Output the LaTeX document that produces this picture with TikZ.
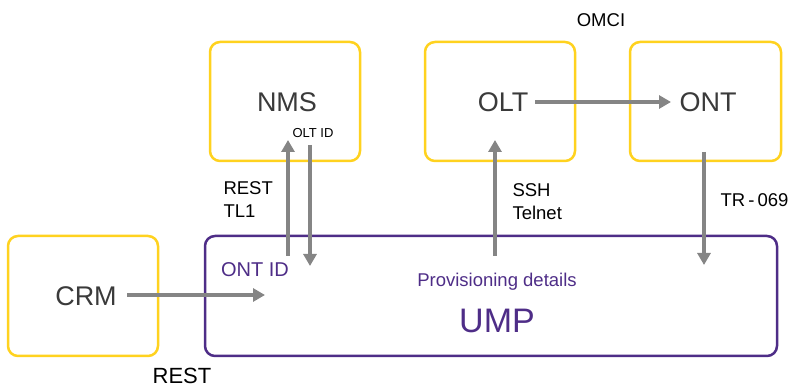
\documentclass[tikz,border=0pt]{standalone}
\usepackage{fontspec}
\setmainfont{Liberation Sans}
\usetikzlibrary{arrows.meta}
\definecolor{boxyellow}{HTML}{FFD21F}
\definecolor{ump}{HTML}{4E2D87}
\definecolor{arrowgray}{HTML}{858585}
\definecolor{txtgray}{HTML}{3A3A3A}
\tikzset{
  ybox/.style={draw=boxyellow, line width=2.5pt, rounded corners=10pt},
  pbox/.style={draw=ump, line width=2.5pt, rounded corners=10pt},
  boxlabel/.style={text=txtgray, font=\fontsize{27}{30}\selectfont},
  lbl/.style={text=black, font=\fontsize{18.5}{23}\selectfont, align=left},
  flow/.style={draw=arrowgray, line width=4pt, -{Triangle[length=12pt,width=13pt]}},
}
\begin{document}
\begin{tikzpicture}[x=1pt,y=-1pt]
\useasboundingbox (0,0) rectangle (790,387);
% boxes
\draw[ybox] (210,42) rectangle (360,161);
\draw[ybox] (425,42) rectangle (575,161);
\draw[ybox] (630,42) rectangle (781,161);
\draw[ybox] (8,236) rectangle (158,356);
\draw[pbox] (205,236) rectangle (777,356);
% box labels
\node[boxlabel] (nms) at (287,102) {NMS};
\node[boxlabel] (olt) at (503,102) {OLT};
\node[boxlabel] (ont) at (708,102) {ONT};
\node[boxlabel] (crm) at (86,296) {CRM};
\node[text=ump, font=\fontsize{34}{38}\selectfont] (ump) at (497,321) {UMP};
\node[text=ump, font=\fontsize{18.5}{21}\selectfont] (prov) at (497,282) {Provisioning details};
\node[text=ump, font=\fontsize{20}{22}\selectfont] (ontid) at (255,270) {ONT ID};
\node[font=\fontsize{13}{15}\selectfont] (oltid) at (313,133) {OLT ID};
% coordinates
\coordinate (a1s) at (288,256); \coordinate (a1e) at (288,140);
\coordinate (a2s) at (310,145); \coordinate (a2e) at (310,266);
\coordinate (a3s) at (535,102); \coordinate (a3e) at (671,102);
\coordinate (a4s) at (495,256); \coordinate (a4e) at (495,140);
\coordinate (a5s) at (704,152); \coordinate (a5e) at (704,265);
\coordinate (a6s) at (127,295); \coordinate (a6e) at (265,295);
\draw[flow] (a1s) -- (a1e);
\draw[flow] (a2s) -- (a2e);
\draw[flow] (a3s) -- (a3e);
\draw[flow] (a4s) -- (a4e);
\draw[flow] (a5s) -- (a5e);
\draw[flow] (a6s) -- (a6e);
% protocol labels
\node[lbl, anchor=west] (resttl1) at (220,200) {REST\\TL1};
\node[lbl, anchor=west] (sshtel) at (509,202) {SSH\\Telnet};
\node[lbl] (omci) at (601,20) {OMCI};
\node[lbl, anchor=west] (tr) at (717,200) {TR\,-\,069};
\node[text=black, font=\fontsize{22}{24}\selectfont] (rest) at (182,376) {REST};
\end{tikzpicture}
\end{document}
